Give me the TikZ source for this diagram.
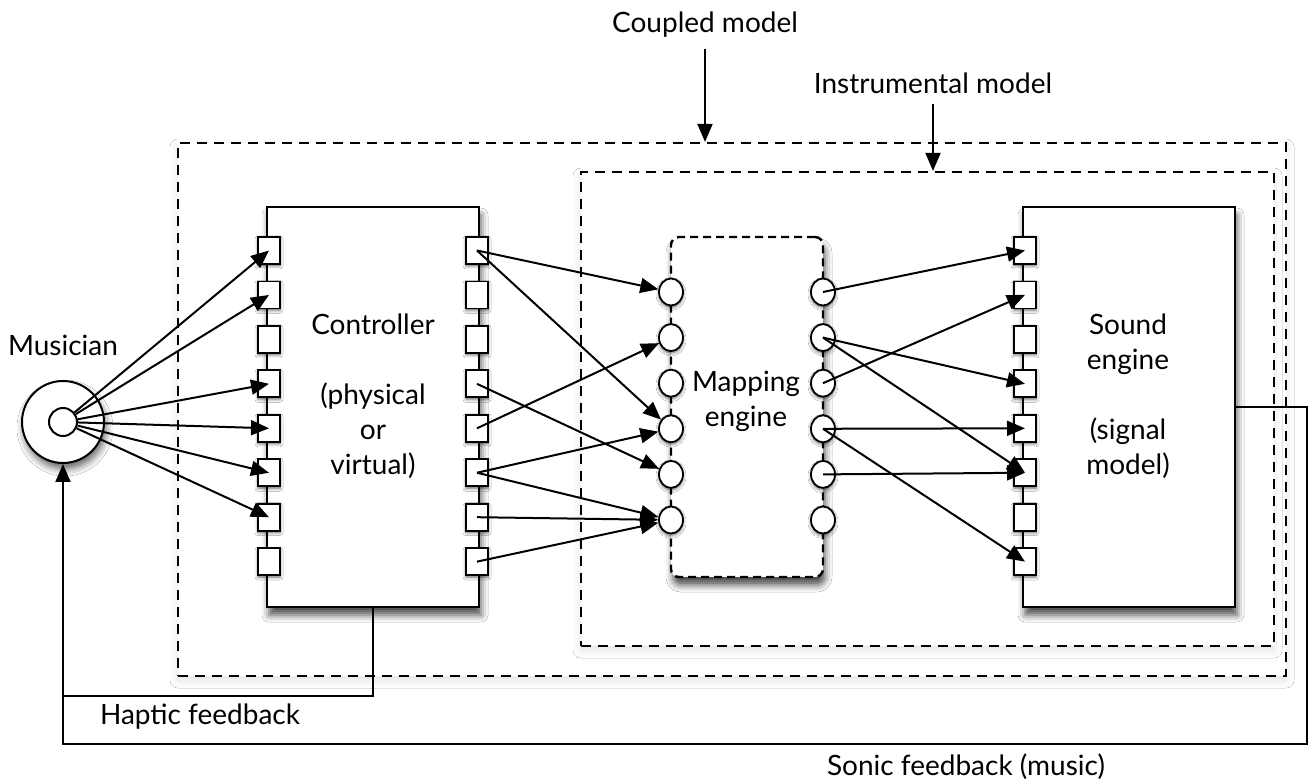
\documentclass[tikz,border=0pt]{standalone}
\usepackage{fontspec}
\setmainfont{Lato}
\usepackage{tikz}
\usetikzlibrary{positioning,shapes.geometric,arrows.meta,shadows.blur}
\tikzset{
	model/.style={draw, fill=white, line width=1.1pt, dash pattern=on 5pt off 3.5pt, inner sep=0pt,
			blur shadow={shadow xshift=0pt, shadow yshift=-2pt, shadow opacity=12, shadow blur radius=4pt}},
	engine/.style={draw, fill=white, line width=1.2pt, inner sep=0pt, minimum width=106pt, minimum height=200pt,
			blur shadow={shadow xshift=1pt, shadow yshift=-4pt, shadow opacity=70, shadow blur radius=3.5pt}},
	mapper/.style={engine, dash pattern=on 4pt off 2.5pt, rounded corners=4pt, minimum width=76pt, minimum height=170pt},
	port/.style={draw, fill=white, line width=.9pt, inner sep=0pt, minimum width=11pt, minimum height=13.5pt,
			blur shadow={shadow xshift=0pt, shadow yshift=-1pt, shadow opacity=60, shadow blur radius=1.5pt}},
	slot/.style={port, ellipse, minimum width=12pt, minimum height=13.5pt},
	link/.style={-{Triangle[length=9pt,width=7.5pt]}, line width=1pt},
	feedback/.style={line width=1pt},
	note/.style={font=\fontsize{14}{17.5}\selectfont, align=center}
}

\begin{document}
\begin{tikzpicture}[x=0.5pt, y=-0.5pt]
  \useasboundingbox[fill=white] (0,0) rectangle (1314,780);

  \node[model, minimum width=554pt, minimum height=266.5pt] (coupled) at (732,409.5) {};
  \node[model, minimum width=346.5pt, minimum height=237pt] (instr) at (927.5,409) {};

  \node[engine] (ctrl) at (373,407) {};
  \node[mapper] (map) at (747,407) {};
  \node[engine] (sound) at (1129,407) {};

  \node[note] (ctrlname) at (373,396) {Controller\\[17.5pt](physical\\or\\virtual)};
  \node[note] (mapname) at (746,401) {Mapping\\engine};
  \node[note] (soundname) at (1128,396) {Sound\\engine\\[17.5pt](signal\\model)};

  \foreach \i in {1,...,8} {
    \node[port] (cl\i) at (269,{250.5+44.45*(\i-1)}) {};
    \node[port] (cr\i) at (477,{250.5+44.45*(\i-1)}) {};
    \node[port] (ss\i) at (1025,{250.5+44.45*(\i-1)}) {};
  }
  \foreach \i in {1,...,6} {
    \node[slot] (ml\i) at (671,{292+45.6*(\i-1)}) {};
    \node[slot] (mr\i) at (823,{292+45.6*(\i-1)}) {};
  }

  \node[draw, circle, fill=white, line width=1pt, minimum size=41pt,
    blur shadow={shadow xshift=1pt, shadow yshift=-3pt, shadow opacity=60, shadow blur radius=3.5pt}] (mus) at (63,422) {};
  \node[draw, circle, line width=1pt, minimum size=14pt] (musin) at (63,422) {};
  \node[note] (musname) at (63,345) {Musician};

  \foreach \p in {1,2,4,5,6,7}
    \draw[link] (musin) -- (cl\p.center);
  \foreach \a/\b in {1/1,1/4,4/5,5/2,6/4,6/6,7/6,8/6}
    \draw[link] (cr\a.center) -- (ml\b);
  \foreach \a/\b in {1/1,2/4,2/6,3/2,4/5,4/8,5/6}
    \draw[link] (mr\a.center) -- (ss\b.center);

  \node[note] (coupledname) at (705,25) {Coupled model};
  \node[note] (instrname) at (933,83) {Instrumental model};
  \draw[link] ([yshift=-2pt]coupledname.south) -- (coupledname.south |- coupled.north);
  \draw[link] ([yshift=-2pt]instrname.south) -- (instrname.south |- instr.north);

  \coordinate (hapt) at (63,696);
  \coordinate (sonicr) at (1307,744);
  \coordinate (sonicl) at (63,744);
  \draw[feedback] (ctrl.south) |- (hapt);
  \draw[link] (sound.east) -| (sonicr) -- (sonicl) -- (mus.south);
  \node[note] (haptname) at (200,717) {Haptic feedback};
  \node[note] (sonicname) at (966,767) {Sonic feedback (music)};
\end{tikzpicture}
\end{document}
